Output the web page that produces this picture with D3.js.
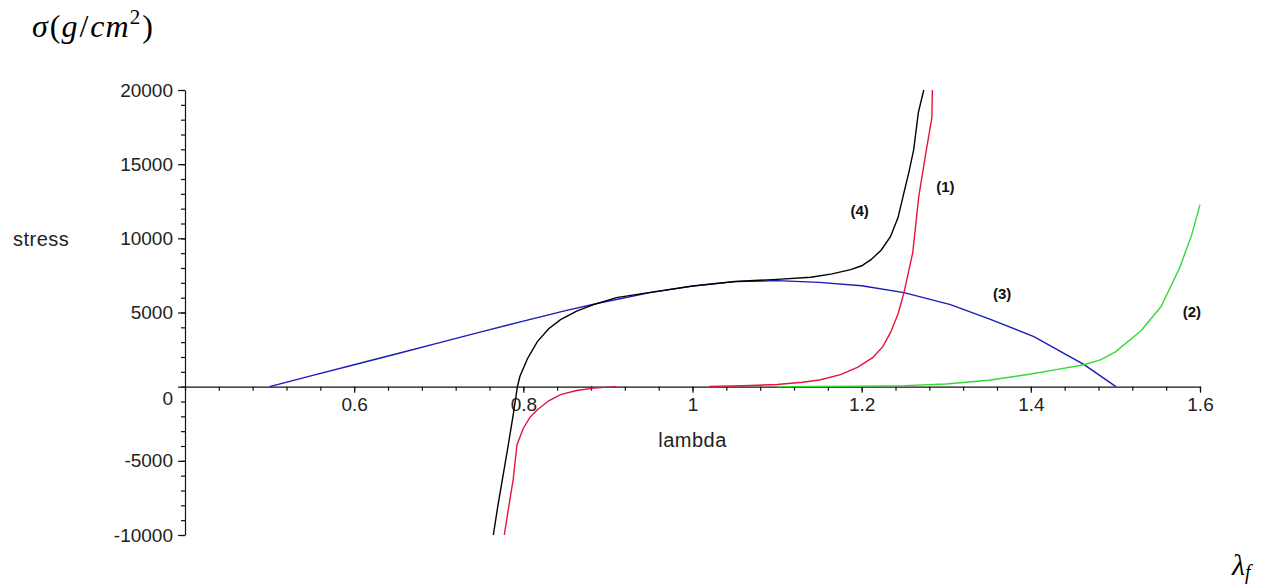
<!DOCTYPE html>
<html>
   <head>
      <script type="text/javascript" src="https://d3js.org/d3.v7.min.js"></script>
      <style>
         body { margin: 0; background: #fff; }
         .axis text { font-family: "Liberation Sans", Arial, sans-serif; font-size: 19px; fill: #222; }
         .axis path, .axis line { stroke: #111; stroke-width: 1.2; }
         .axisTitle { font-family: "Liberation Sans", Arial, sans-serif; font-size: 20px; letter-spacing: 0.5px; fill: #222; }
         .curveLabel { font-family: "Liberation Sans", Arial, sans-serif; font-size: 15px; font-weight: bold; fill: #111; }
         .tex { font-family: "Liberation Serif", "DejaVu Serif", serif; fill: #000; }
      </style>
   </head>
   <body>
      <script>
      // curve (1), red: two branches
      var red1Lambda = [0.7775, 0.783, 0.788, 0.7925, 0.800, 0.808, 0.8166, 0.830, 0.844, 0.863, 0.883, 0.910];
      var red1Stress = [-10000, -8000, -6270, -3910, -2800, -2050, -1550, -950, -540, -260, -100, 0];
      var red2Lambda = [1.02, 1.06, 1.10, 1.13, 1.15, 1.175, 1.195, 1.213, 1.225, 1.234, 1.243, 1.25, 1.2604, 1.2675, 1.276, 1.283, 1.2836];
      var red2Stress = [20, 60, 150, 300, 450, 810, 1300, 1955, 2700, 3640, 4900, 6340, 9040, 12810, 15800, 18140, 20000];
      // curve (2), green
      var greenLambda = [1.10, 1.15, 1.20, 1.25, 1.30, 1.35, 1.40, 1.43, 1.463, 1.483, 1.50, 1.53, 1.554, 1.576, 1.59, 1.60];
      var greenStress = [0, 15, 35, 70, 180, 430, 850, 1150, 1480, 1820, 2350, 3750, 5400, 8020, 10200, 12270];
      // curve (3), blue
      var blueLambda = [0.5, 0.55, 0.6, 0.654, 0.7, 0.75, 0.8, 0.85, 0.891, 0.95, 1.0, 1.05, 1.1, 1.15, 1.2, 1.25, 1.305, 1.353, 1.4036, 1.463, 1.5006];
      var blueStress = [0, 740, 1480, 2270, 2950, 3690, 4420, 5130, 5660, 6340, 6780, 7080, 7150, 7030, 6800, 6340, 5530, 4520, 3370, 1480, 0];
      // curve (4), black
      var blackLambda = [0.7645, 0.770, 0.776, 0.782, 0.788, 0.793, 0.796, 0.805, 0.8166, 0.830, 0.844, 0.863, 0.883, 0.910, 0.950, 1.0, 1.05, 1.10, 1.14, 1.165, 1.187, 1.20, 1.211, 1.223, 1.234, 1.243, 1.25, 1.256, 1.2615, 1.267, 1.2734];
      var blackStress = [-10000, -8000, -6000, -4000, -1900, 0, 700, 1900, 3035, 3900, 4520, 5100, 5530, 6000, 6360, 6790, 7090, 7230, 7380, 7600, 7890, 8150, 8560, 9200, 10110, 11400, 13080, 14500, 15980, 18480, 20000];

      var curveNames = ["(1)", "(2)", "(3)", "(4)"];
      var labelLambda = [1.299, 1.5905, 1.366, 1.1976];
      var labelStress = [13450, 5020, 6240, 11870];

      var xTicks = [0.6, 0.8, 1, 1.2, 1.4, 1.6];
      var yTicks = [-10000, -5000, 0, 5000, 10000, 15000, 20000];

      var svgWidth = 1261, svgHeight = 586;
      var plotLeft = 185, plotRight = 1200, plotTop = 90, plotBottom = 535;

      var svg = d3.select("body").append("svg")
         .attr("width", svgWidth)
         .attr("height", svgHeight);

      var x = d3.scaleLinear().domain([0.4, 1.6]).range([plotLeft, plotRight]);
      var y = d3.scaleLinear().domain([-10000, 20000]).range([plotBottom, plotTop]);

      // plain hyphen minus like the original
      var plainFormat = function(d){ return String(d); };

      // y axis: minor then major
      svg.append("g")
         .attr("class", "axis")
         .attr("transform", "translate(" + plotLeft + ",0)")
         .call(d3.axisLeft(y).tickValues(d3.range(-10000, 20001, 1000)).tickSize(4).tickSizeOuter(0).tickFormat(""));
      var yAxis = svg.append("g")
         .attr("class", "axis")
         .attr("transform", "translate(" + plotLeft + ",0)")
         .call(d3.axisLeft(y).tickValues(yTicks).tickSize(7).tickSizeOuter(0).tickPadding(5).tickFormat(plainFormat));
      yAxis.select(".domain").remove();
      yAxis.selectAll(".tick text").filter(function(d){ return d === 0; }).attr("dy", "0.95em");

      // x axis through zero
      svg.append("g")
         .attr("class", "axis")
         .attr("transform", "translate(0," + y(0) + ")")
         .call(d3.axisBottom(x).tickValues(d3.range(0.4, 1.6001, 0.04)).tickSize(4).tickSizeOuter(0).tickFormat(""));
      var xAxis = svg.append("g")
         .attr("class", "axis")
         .attr("transform", "translate(0," + y(0) + ")")
         .call(d3.axisBottom(x).tickValues(xTicks).tickSize(6).tickSizeOuter(0).tickPadding(5).tickFormat(plainFormat));
      xAxis.select(".domain").remove();

      svg.append("text").attr("class", "axisTitle")
         .attr("x", 13).attr("y", 246)
         .text("stress");
      svg.append("text").attr("class", "axisTitle")
         .attr("x", x(1)).attr("y", 447)
         .attr("text-anchor", "middle")
         .text("lambda");

      var line = d3.line()
         .x(function(d){ return x(d[0]); })
         .y(function(d){ return y(d[1]); });

      function pairs(a, b){ return a.map(function(v, i){ return [v, b[i]]; }); }

      var curves = [
         {pts: pairs(blueLambda, blueStress), color: "#1a1ab8"},
         {pts: pairs(greenLambda, greenStress), color: "#36d836"},
         {pts: pairs(red1Lambda, red1Stress), color: "#e4143c"},
         {pts: pairs(red2Lambda, red2Stress), color: "#e4143c"},
         {pts: pairs(blackLambda, blackStress), color: "#000"}
      ];

      svg.selectAll(".curve")
         .data(curves)
         .enter().append("path")
         .attr("class", "curve")
         .attr("d", function(d){ return line(d.pts); })
         .attr("fill", "none")
         .attr("stroke", function(d){ return d.color; })
         .attr("stroke-width", 1.4);

      svg.selectAll(".curveLabel")
         .data(curveNames)
         .enter().append("text")
         .attr("class", "curveLabel")
         .attr("x", function(d, i){ return x(labelLambda[i]); })
         .attr("y", function(d, i){ return y(labelStress[i]); })
         .attr("dy", "0.35em")
         .attr("text-anchor", "middle")
         .text(function(d){ return d; });

      // TeX style annotations
      var sigma = svg.append("text").attr("class", "tex")
         .attr("x", 32).attr("y", 37)
         .attr("font-size", 32);
      sigma.append("tspan").attr("font-style", "italic").text("σ");
      sigma.append("tspan").attr("dx", 2).text("(");
      sigma.append("tspan").attr("font-style", "italic").attr("dx", 1).text("g");
      sigma.append("tspan").attr("dx", 2).text("/");
      sigma.append("tspan").attr("font-style", "italic").attr("dx", 2).text("c");
      sigma.append("tspan").attr("font-style", "italic").attr("dx", 1).text("m");
      sigma.append("tspan").attr("font-size", 21).attr("dy", -13).attr("dx", 1).text("2");
      sigma.append("tspan").attr("dy", 13).attr("dx", 2).text(")");

      var lam = svg.append("text").attr("class", "tex")
         .attr("x", 1232).attr("y", 575)
         .attr("font-size", 30);
      lam.append("tspan").attr("font-style", "italic").text("λ");
      lam.append("tspan").attr("font-style", "italic").attr("font-size", 20).attr("dy", 4).text("f");
      </script>
   </body>
</html>
